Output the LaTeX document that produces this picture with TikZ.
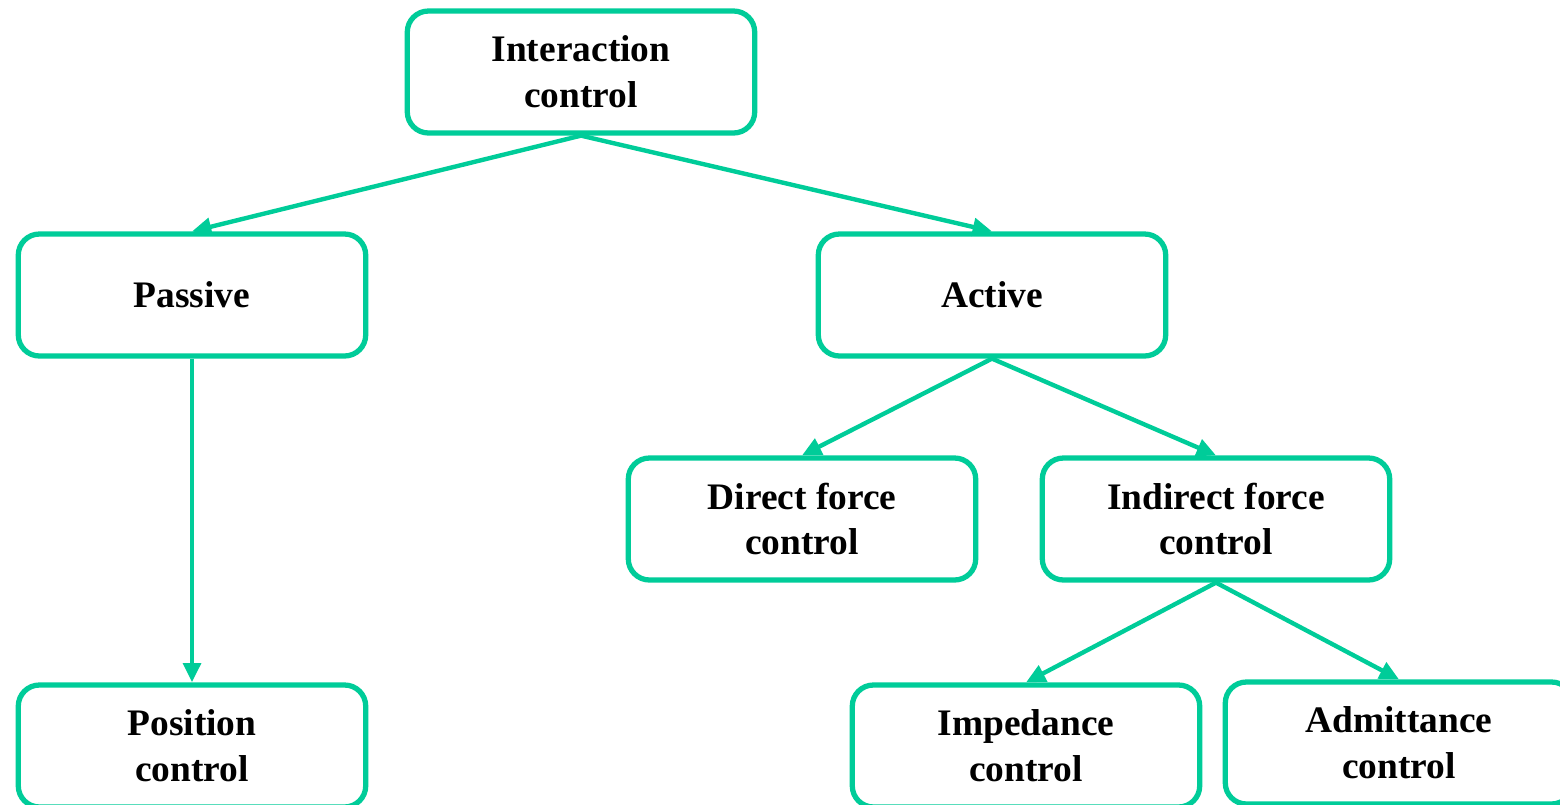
\documentclass[tikz,border=0pt]{standalone}
\usepackage{fontspec}
\setmainfont{Liberation Serif}
\usetikzlibrary{arrows.meta}
\definecolor{mint}{HTML}{00CC99}
\tikzset{>={Triangle[length=11pt,width=10pt]},
  every node/.style={font=\fontsize{21.3}{26}\selectfont\bfseries},
  ctrlbox/.style={draw=mint,line width=3pt,rounded corners=12pt,fill=white,
    minimum width=6.95cm,minimum height=2.44cm,align=center,inner sep=0pt},
  branch/.style={->,draw=mint,line width=2.5pt}}

\begin{document}
\begin{tikzpicture}[x=0.02cm,y=-0.02cm]
\path[use as bounding box] (0,0) rectangle (1560,805);
\node[ctrlbox] (inter) at (581,72) {Interaction\\control};
\node[ctrlbox] (passive) at (192,295) {Passive};
\node[ctrlbox] (active) at (992,295) {Active};
\node[ctrlbox] (direct) at (802,519) {Direct force\\control};
\node[ctrlbox] (indirect) at (1216,519) {Indirect force\\control};
\node[ctrlbox] (position) at (192,746) {Position\\control};
\node[ctrlbox] (imped) at (1026,746) {Impedance\\control};
\node[ctrlbox] (admit) at (1399,743) {Admittance\\control};
\draw[branch] (inter.south) -- (passive.north);
\draw[branch] (inter.south) -- (active.north);
\draw[branch] (passive.south) -- (position.north);
\draw[branch] (active.south) -- (direct.north);
\draw[branch] (active.south) -- (indirect.north);
\draw[branch] (indirect.south) -- (imped.north);
\draw[branch] (indirect.south) -- (admit.north);
\end{tikzpicture}
\end{document}
